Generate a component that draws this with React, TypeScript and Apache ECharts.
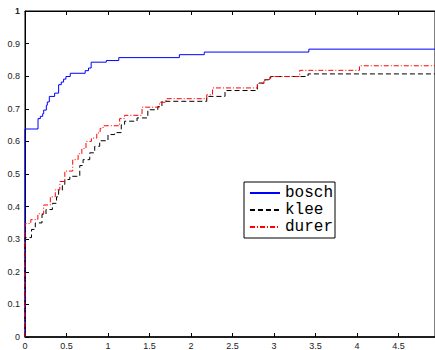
import React, { useEffect, useRef } from "react";
import * as echarts from "echarts";

const seriesNames = ["bosch", "klee", "durer"];

const boschX = [0, 0, 0.157, 0.185, 0.213, 0.225, 0.257, 0.269, 0.293, 0.357, 0.405, 0.437, 0.465, 0.493, 0.545, 0.725, 0.765, 0.797, 0.98, 1.13, 1.86, 2.16, 3.42, 4.94];
const boschY = [0, 0.638, 0.67, 0.677, 0.685, 0.696, 0.711, 0.721, 0.738, 0.748, 0.774, 0.782, 0.791, 0.799, 0.809, 0.817, 0.825, 0.843, 0.848, 0.857, 0.866, 0.874, 0.883, 0.883];

const kleeX = [0, 0, 0.078, 0.124, 0.205, 0.253, 0.33, 0.38, 0.405, 0.45, 0.48, 0.54, 0.66, 0.7, 0.78, 0.84, 0.9, 1.0, 1.08, 1.16, 1.2, 1.35, 1.48, 1.6, 1.65, 2.19, 2.41, 2.8, 2.89, 2.96, 3.41, 4.94];
const kleeY = [0, 0.305, 0.33, 0.35, 0.376, 0.391, 0.41, 0.43, 0.45, 0.468, 0.483, 0.493, 0.526, 0.544, 0.565, 0.585, 0.602, 0.621, 0.627, 0.651, 0.662, 0.672, 0.697, 0.707, 0.723, 0.738, 0.756, 0.779, 0.789, 0.799, 0.807, 0.807];

const durerX = [0, 0, 0.07, 0.155, 0.225, 0.305, 0.365, 0.42, 0.48, 0.575, 0.64, 0.685, 0.735, 0.8, 0.865, 0.905, 0.94, 1.14, 1.2, 1.41, 1.62, 1.7, 2.19, 2.26, 2.8, 2.88, 2.95, 3.31, 4.03, 4.94];
const durerY = [0, 0.348, 0.36, 0.378, 0.405, 0.43, 0.452, 0.477, 0.509, 0.544, 0.562, 0.578, 0.6, 0.61, 0.626, 0.64, 0.648, 0.67, 0.68, 0.705, 0.72, 0.731, 0.743, 0.764, 0.778, 0.79, 0.799, 0.818, 0.832, 0.832];

const xMin = 0;
const xMax = 4.94;
const xInterval = 0.5;
const yMin = 0;
const yMax = 1;
const yInterval = 0.1;

const zip = (xs: number[], ys: number[]) => xs.map((x, i) => [x, ys[i]]);

export default function App() {
  const ref = useRef<HTMLDivElement>(null);
  useEffect(() => {
    if (!ref.current) return;
    const chart = echarts.init(ref.current, undefined, { renderer: "svg" });
    const labelStyle = { fontFamily: "Liberation Sans", fontSize: 9, color: "#222" };
    const styles: any[] = [
      { color: "#0000ff", type: "solid" },
      { color: "#000000", type: [5, 3] },
      { color: "#ff0000", type: [5, 2, 1, 2] },
    ];
    const datas = [zip(boschX, boschY), zip(kleeX, kleeY), zip(durerX, durerY)];
    const fmt = (v: number) => String(Math.round(v * 10) / 10);
    chart.setOption({
      animation: false,
      backgroundColor: "#ffffff",
      grid: {
        left: 25,
        top: 11,
        right: -1,
        bottom: 12,
        show: true,
        borderColor: "#000",
        borderWidth: 1,
        containLabel: false,
      },
      legend: {
        orient: "vertical",
        left: 244,
        top: 182,
        padding: [3, 2, 3, 5],
        itemGap: 1,
        itemWidth: 30,
        itemHeight: 12,
        itemStyle: { opacity: 0 },
        backgroundColor: "#ffffff",
        borderColor: "#000",
        borderWidth: 1,
        textStyle: { fontFamily: "Liberation Mono", fontSize: 16, color: "#000" },
        data: seriesNames,
      },
      xAxis: [
        {
          type: "value",
          min: xMin,
          max: xMax,
          interval: xInterval,
          position: "bottom",
          axisLine: { show: true, onZero: false, lineStyle: { color: "#000", width: 1.5 } },
          axisTick: { show: true, inside: true, length: 4, lineStyle: { color: "#000" } },
          axisLabel: { ...labelStyle, margin: 4, showMaxLabel: false },
          splitLine: { show: false },
        },
        {
          type: "value",
          min: xMin,
          max: xMax,
          interval: xInterval,
          position: "top",
          axisLine: { show: true, onZero: false, lineStyle: { color: "#000", width: 1 } },
          axisTick: { show: true, inside: true, length: 4, lineStyle: { color: "#000" } },
          axisLabel: { show: false },
          splitLine: { show: false },
        },
      ],
      yAxis: {
        type: "value",
        min: yMin,
        max: yMax,
        interval: yInterval,
        axisLine: { show: true, onZero: false, lineStyle: { color: "#000", width: 1 } },
        axisTick: { show: true, inside: true, length: 4, lineStyle: { color: "#000" } },
        axisLabel: { ...labelStyle, margin: 5, showMaxLabel: true, formatter: fmt },
        splitLine: { show: false },
      },
      series: seriesNames.map((n, i) => ({
        name: n,
        type: "line",
        step: "end",
        xAxisIndex: 0,
        yAxisIndex: 0,
        symbol: "none",
        clip: false,
        data: datas[i],
        lineStyle: { color: styles[i].color, width: 1, type: styles[i].type },
        itemStyle: { color: styles[i].color },
        z: 3 + i,
      })),
    });
    // The top tick label ("1") is not drawn by the axis in this setup; place it from the axis scale.
    const topPx = chart.convertToPixel({ yAxisIndex: 0 }, yMax) as number;
    const leftPx = chart.convertToPixel({ xAxisIndex: 0 }, xMin) as number;
    if (isFinite(topPx) && isFinite(leftPx)) {
      chart.setOption({
        graphic: [
          {
            type: "text",
            x: leftPx - 5,
            y: topPx,
            z: 10,
            style: {
              text: fmt(yMax),
              align: "right",
              verticalAlign: "middle",
              fontFamily: "Liberation Sans",
              fontSize: 9,
              fill: "#222",
            },
          },
        ],
      });
    }
    return () => chart.dispose();
  }, []);
  return (
    <div
      ref={ref}
      style={{ position: "fixed", left: 0, top: 0, width: 435, height: 350, background: "#fff" }}
    />
  );
}
